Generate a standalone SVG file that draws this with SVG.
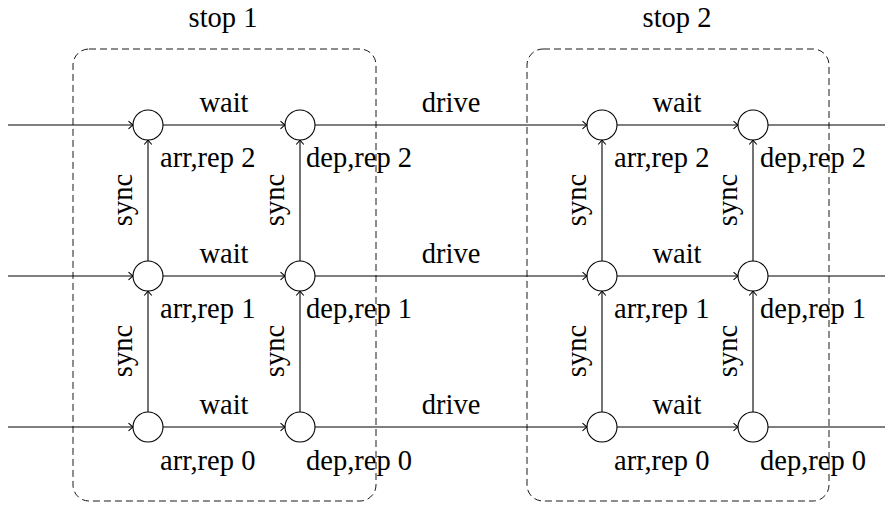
<svg xmlns="http://www.w3.org/2000/svg" width="885" height="507" viewBox="0 0 885 507">
  <style>
    text { font-family: "Liberation Serif", "Times New Roman", serif; font-size: 28.5px; fill: #000; }
    .mid { text-anchor: middle; }
    .edge { stroke: #000; stroke-width: 1.1; fill: none; }
    .arrow { marker-end: url(#to); }
    .node { fill: #fff; stroke: #000; stroke-width: 1.1; }
    .stop { fill: none; stroke: #000; stroke-width: 0.9; stroke-dasharray: 7 4; }
  </style>
  <defs>
    <marker id="to" markerUnits="userSpaceOnUse" markerWidth="12" markerHeight="12" viewBox="-6 -6 12 12" refX="0" refY="0" orient="auto" overflow="visible">
      <path d="M -4.5,-3.8 Q -1.2,-0.8 0,0 Q -1.2,0.8 -4.5,3.8" fill="none" stroke="#000" stroke-width="1.1"/>
    </marker>
  </defs>
  <rect width="885" height="507" fill="#fff"/>

  <!-- stop boxes -->
  <g id="stop1">
    <rect class="stop" x="73" y="49" width="303" height="452" rx="16"/>
    <text class="mid" x="223" y="27">stop 1</text>
  </g>
  <g id="stop2">
    <rect class="stop" x="527" y="49" width="302" height="452" rx="16"/>
    <text class="mid" x="677" y="27">stop 2</text>
  </g>

  <!-- connectors -->
  <g id="connectors">
    <!-- rep 2 -->
    <line class="edge arrow" x1="8" y1="125" x2="133" y2="125"/>
    <line class="edge arrow" x1="163" y1="125" x2="285" y2="125"/>
    <line class="edge arrow" x1="315" y1="125" x2="587" y2="125"/>
    <line class="edge arrow" x1="617" y1="125" x2="738" y2="125"/>
    <line class="edge" x1="768" y1="125" x2="885" y2="125"/>
    <!-- rep 1 -->
    <line class="edge arrow" x1="8" y1="276" x2="133" y2="276"/>
    <line class="edge arrow" x1="163" y1="276" x2="285" y2="276"/>
    <line class="edge arrow" x1="315" y1="276" x2="587" y2="276"/>
    <line class="edge arrow" x1="617" y1="276" x2="738" y2="276"/>
    <line class="edge" x1="768" y1="276" x2="885" y2="276"/>
    <!-- rep 0 -->
    <line class="edge arrow" x1="8" y1="427" x2="133" y2="427"/>
    <line class="edge arrow" x1="163" y1="427" x2="285" y2="427"/>
    <line class="edge arrow" x1="315" y1="427" x2="587" y2="427"/>
    <line class="edge arrow" x1="617" y1="427" x2="738" y2="427"/>
    <line class="edge" x1="768" y1="427" x2="885" y2="427"/>
    <!-- sync edges -->
    <line class="edge arrow" x1="148" y1="412" x2="148" y2="291"/>
    <line class="edge arrow" x1="148" y1="261" x2="148" y2="140"/>
    <line class="edge arrow" x1="300" y1="412" x2="300" y2="291"/>
    <line class="edge arrow" x1="300" y1="261" x2="300" y2="140"/>
    <line class="edge arrow" x1="602" y1="412" x2="602" y2="291"/>
    <line class="edge arrow" x1="602" y1="261" x2="602" y2="140"/>
    <line class="edge arrow" x1="753" y1="412" x2="753" y2="291"/>
    <line class="edge arrow" x1="753" y1="261" x2="753" y2="140"/>

    <!-- edge labels -->
    <text class="mid" x="224" y="112">wait</text>
    <text class="mid" x="224" y="263">wait</text>
    <text class="mid" x="224" y="414">wait</text>
    <text class="mid" x="677" y="112">wait</text>
    <text class="mid" x="677" y="263">wait</text>
    <text class="mid" x="677" y="414">wait</text>
    <text class="mid" x="451" y="112">drive</text>
    <text class="mid" x="451" y="263">drive</text>
    <text class="mid" x="451" y="414">drive</text>

    <text class="mid" transform="translate(132,200) rotate(-90)">sync</text>
    <text class="mid" transform="translate(132,351) rotate(-90)">sync</text>
    <text class="mid" transform="translate(284,200) rotate(-90)">sync</text>
    <text class="mid" transform="translate(284,351) rotate(-90)">sync</text>
    <text class="mid" transform="translate(586,200) rotate(-90)">sync</text>
    <text class="mid" transform="translate(586,351) rotate(-90)">sync</text>
    <text class="mid" transform="translate(737,200) rotate(-90)">sync</text>
    <text class="mid" transform="translate(737,351) rotate(-90)">sync</text>
  </g>

  <!-- event nodes -->
  <g id="arr2_s1"><circle class="node" cx="148" cy="125" r="15"/><text x="160" y="167">arr,rep 2</text></g>
  <g id="dep2_s1"><circle class="node" cx="300" cy="125" r="15"/><text x="306" y="167">dep,rep 2</text></g>
  <g id="arr1_s1"><circle class="node" cx="148" cy="276" r="15"/><text x="160" y="318">arr,rep 1</text></g>
  <g id="dep1_s1"><circle class="node" cx="300" cy="276" r="15"/><text x="306" y="318">dep,rep 1</text></g>
  <g id="arr0_s1"><circle class="node" cx="148" cy="427" r="15"/><text x="160" y="470">arr,rep 0</text></g>
  <g id="dep0_s1"><circle class="node" cx="300" cy="427" r="15"/><text x="306" y="470">dep,rep 0</text></g>

  <g id="arr2_s2"><circle class="node" cx="602" cy="125" r="15"/><text x="614" y="167">arr,rep 2</text></g>
  <g id="dep2_s2"><circle class="node" cx="753" cy="125" r="15"/><text x="760" y="167">dep,rep 2</text></g>
  <g id="arr1_s2"><circle class="node" cx="602" cy="276" r="15"/><text x="614" y="318">arr,rep 1</text></g>
  <g id="dep1_s2"><circle class="node" cx="753" cy="276" r="15"/><text x="760" y="318">dep,rep 1</text></g>
  <g id="arr0_s2"><circle class="node" cx="602" cy="427" r="15"/><text x="614" y="470">arr,rep 0</text></g>
  <g id="dep0_s2"><circle class="node" cx="753" cy="427" r="15"/><text x="760" y="470">dep,rep 0</text></g>
</svg>
